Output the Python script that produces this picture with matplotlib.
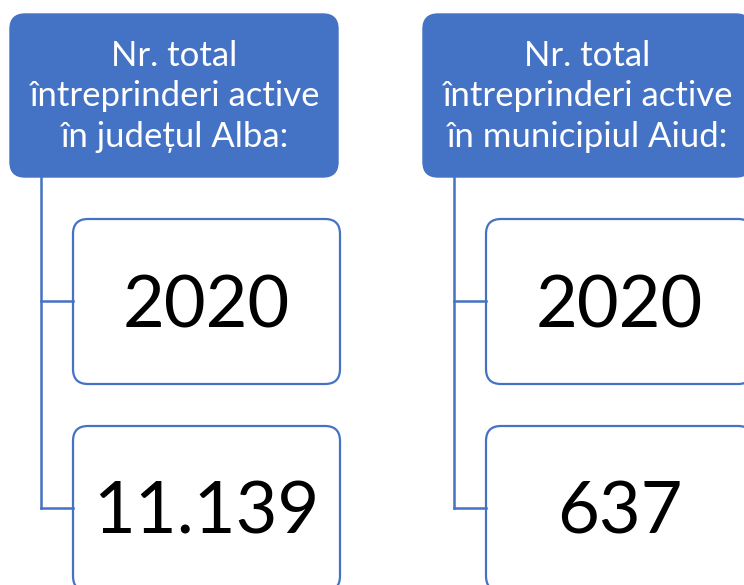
import matplotlib
matplotlib.use("Agg")
import matplotlib.pyplot as plt
from matplotlib.patches import FancyBboxPatch

# diagram content
headers = ["Nr. total\nîntreprinderi active\nîn județul Alba:",
           "Nr. total\nîntreprinderi active\nîn municipiul Aiud:"]
years = ["2020", "2020"]
values = ["11.139", "637"]

blue = "#4472C4"
font = "Lato"

W, H = 744, 585
fig = plt.figure(figsize=(W / 100, H / 100), dpi=100)
ax = fig.add_axes([0, 0, 1, 1])
ax.set_xlim(0, W)
ax.set_ylim(H, 0)
ax.axis("off")

col_x = [10, 423]      # header left edge
head_w, head_h, head_y = 328, 163, 14
child_dx, child_w, child_h = 63, 267, 165
child_y = [219, 426]
line_dx = 31

for i, hx in enumerate(col_x):
    ax.add_patch(FancyBboxPatch((hx, head_y), head_w, head_h,
                                boxstyle="round,pad=0,rounding_size=15",
                                fc=blue, ec=blue, lw=1))
    ax.text(hx + head_w / 2, head_y + head_h / 2 + 1, headers[i], color="white",
            ha="center", va="center", fontsize=25, family=font, linespacing=1.33)

    lx = hx + line_dx
    cx = hx + child_dx
    mids = [cy + child_h / 2 - 1 for cy in child_y]
    ax.plot([lx, lx], [head_y + head_h, mids[-1]], color=blue, lw=1.8,
            solid_joinstyle="miter")
    for cy, m, txt in zip(child_y, mids, [years[i], values[i]]):
        ax.plot([lx, cx], [m, m], color=blue, lw=1.8)
        ax.add_patch(FancyBboxPatch((cx, cy), child_w, child_h,
                                    boxstyle="round,pad=0,rounding_size=15",
                                    fc="white", ec=blue, lw=1.6))
        ax.text(cx + child_w / 2, cy + 108, txt, color="black", ha="center",
                va="baseline", fontsize=52, family=font)

fig.savefig("out.png", dpi=100)
